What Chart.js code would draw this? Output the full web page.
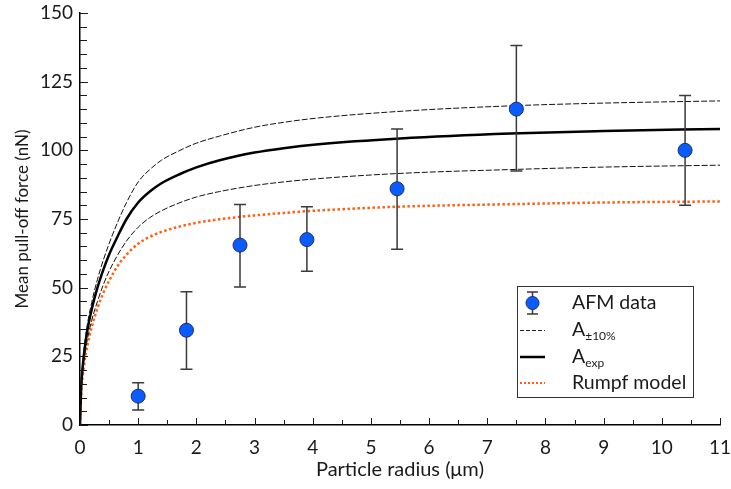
<!DOCTYPE html>
<html>
<head>
<meta charset="utf-8">
<script src="https://cdn.jsdelivr.net/npm/chart.js@4/dist/chart.umd.min.js"></script>
<style>
  html, body { margin: 0; padding: 0; background: #ffffff; }
  #wrap { width: 731px; height: 489px; position: relative; }
</style>
</head>
<body>
<div id="wrap"><canvas id="c" width="731" height="489"></canvas></div>
<script>
// ---- AFM measurements ----
const radius  = [1.0, 1.83, 2.75, 3.9, 5.45, 7.5, 10.4];
const force   = [10.5, 34.5, 65.5, 67.5, 86.0, 115.0, 100.0];
const errLow  = [5.5, 20.3, 50.2, 56.0, 64.0, 92.5, 80.0];
const errHigh = [15.4, 48.5, 80.3, 79.5, 107.8, 138.2, 120.0];

// ---- model curves ----
const curveX  = [0, 0.02, 0.05, 0.1, 0.2, 0.3, 0.4, 0.5, 0.65, 0.8, 1.0, 1.2, 1.4, 1.7, 2.0, 2.4, 3.0, 3.5, 4.1, 5.5, 7.4, 9.0, 11.0];
const aExp    = [0, 13.5, 22, 31, 42, 50, 56.5, 62, 68.8, 75, 81, 85, 88, 91.2, 93.8, 96.4, 99.2, 100.8, 102.2, 104.3, 106.1, 107.0, 107.8];
const aPlus   = [0, 14.5, 23.5, 33, 44.5, 53, 60, 66, 74, 81, 88.5, 93, 96.4, 99.8, 102.6, 105.2, 108.4, 110.2, 111.8, 114.2, 116.2, 117.2, 118.0];
const aMinus  = [0, 12.5, 20, 28, 38, 45, 51, 56, 62, 67, 72, 75.5, 78, 80.8, 83, 85, 87.2, 88.5, 89.7, 91.6, 93.0, 93.9, 94.6];
const rumpf   = [0, 11.5, 18.5, 26, 35.5, 42.5, 48, 52.5, 58, 62, 66, 68.5, 70.3, 72.2, 73.6, 74.9, 76.3, 77.2, 78.1, 79.5, 80.4, 81.0, 81.4];

// ---- axis ticks ----
const xTicks = [0,1,2,3,4,5,6,7,8,9,10,11];
const yTicks = [0,25,50,75,100,125,150];
const xMinorStep = 0.5;
const yMinorStep = 5;

const legendLabels = [
  {main: 'AFM data', sub: ''},
  {main: 'A', sub: '±10%'},
  {main: 'A', sub: 'exp'},
  {main: 'Rumpf model', sub: ''}
];

const FONT = 'Lato, "Open Sans", "DejaVu Sans", sans-serif';
const TXT = '#1a1a1a';
const ORANGE = '#ff5f0f';
const BLUE = '#0a5cff';

function pts(xs, ys) { return xs.map((x, i) => ({x: x, y: ys[i]})); }

const errorBarPlugin = {
  id: 'errorBars',
  beforeDatasetDraw(chart, args) {
    if (args.index !== 0) return;
    const ctx = chart.ctx, xs = chart.scales.x, ys = chart.scales.y;
    ctx.save();
    ctx.strokeStyle = '#3a3a3a';
    ctx.lineWidth = 1.5;
    radius.forEach((r, i) => {
      const px = xs.getPixelForValue(r);
      const lo = ys.getPixelForValue(errLow[i]);
      const hi = ys.getPixelForValue(errHigh[i]);
      ctx.beginPath();
      ctx.moveTo(px, lo); ctx.lineTo(px, hi);
      ctx.moveTo(px - 6, lo); ctx.lineTo(px + 6, lo);
      ctx.moveTo(px - 6, hi); ctx.lineTo(px + 6, hi);
      ctx.stroke();
    });
    ctx.restore();
  }
};

const ticksPlugin = {
  id: 'innerTicks',
  afterDraw(chart) {
    const ctx = chart.ctx, xs = chart.scales.x, ys = chart.scales.y;
    const a = chart.chartArea;
    ctx.save();
    ctx.strokeStyle = '#1a1a1a';
    ctx.lineWidth = 1;
    ctx.beginPath();
    for (let v = 0; v <= 11 + 1e-9; v += xMinorStep) {
      const px = Math.round(xs.getPixelForValue(v)) + 0.5;
      const major = Math.abs(v - Math.round(v)) < 1e-6;
      const len = major ? 7 : 5;
      ctx.moveTo(px, a.bottom); ctx.lineTo(px, a.bottom - len);
    }
    for (let v = 0; v <= 150 + 1e-9; v += yMinorStep) {
      const py = Math.round(ys.getPixelForValue(v)) + 0.5;
      const major = v % 25 === 0;
      const len = major ? 8 : 7;
      ctx.moveTo(a.left, py); ctx.lineTo(a.left + len, py);
    }
    ctx.stroke();
    ctx.restore();
  }
};

const legendPlugin = {
  id: 'boxLegend',
  afterDraw(chart) {
    const ctx = chart.ctx;
    const bx = 517.5, by = 286.5, bw = 176, bh = 111;
    ctx.save();
    ctx.fillStyle = '#ffffff';
    ctx.fillRect(bx, by, bw, bh);
    ctx.strokeStyle = '#333333';
    ctx.lineWidth = 1;
    ctx.strokeRect(bx, by, bw, bh);
    const rowY = [303, 330, 357, 383];
    const x0 = 520, x1 = 545, tx = 572;
    // AFM marker
    ctx.strokeStyle = '#3a3a3a'; ctx.lineWidth = 1.5;
    ctx.beginPath();
    ctx.moveTo(532.5, rowY[0] - 11); ctx.lineTo(532.5, rowY[0] + 11);
    ctx.moveTo(527, rowY[0] - 11); ctx.lineTo(538, rowY[0] - 11);
    ctx.moveTo(527, rowY[0] + 11); ctx.lineTo(538, rowY[0] + 11);
    ctx.stroke();
    ctx.beginPath();
    ctx.arc(532.5, rowY[0], 6.5, 0, Math.PI * 2);
    ctx.fillStyle = BLUE; ctx.fill();
    ctx.strokeStyle = '#1b2d6b'; ctx.lineWidth = 1; ctx.stroke();
    // dashed
    ctx.strokeStyle = '#222'; ctx.lineWidth = 1; ctx.setLineDash([4, 2]);
    ctx.beginPath(); ctx.moveTo(x0, rowY[1] + 0.5); ctx.lineTo(x1, rowY[1] + 0.5); ctx.stroke();
    // solid
    ctx.setLineDash([]); ctx.lineWidth = 2.5; ctx.strokeStyle = '#000';
    ctx.beginPath(); ctx.moveTo(x0, rowY[2]); ctx.lineTo(x1, rowY[2]); ctx.stroke();
    // dotted
    ctx.setLineDash([2, 2]); ctx.lineWidth = 2; ctx.strokeStyle = ORANGE;
    ctx.beginPath(); ctx.moveTo(x0, rowY[3]); ctx.lineTo(x1, rowY[3]); ctx.stroke();
    ctx.setLineDash([]);
    // labels
    ctx.fillStyle = TXT;
    ctx.textBaseline = 'middle';
    ctx.textAlign = 'left';
    legendLabels.forEach((l, i) => {
      ctx.font = '19.5px ' + FONT;
      ctx.fillText(l.main, tx, rowY[i]);
      if (l.sub) {
        const w = ctx.measureText(l.main).width;
        ctx.font = '12px ' + FONT;
        ctx.fillText(l.sub, tx + w, rowY[i] + 6);
      }
    });
    ctx.restore();
  }
};

new Chart(document.getElementById('c'), {
  type: 'scatter',
  data: {
    datasets: [
      {
        label: 'AFM data',
        data: pts(radius, force),
        pointRadius: 7, pointHoverRadius: 7,
        pointBackgroundColor: BLUE, pointBorderColor: '#1b2d6b', pointBorderWidth: 1,
        showLine: false
      },
      {
        label: 'A+10%', data: pts(curveX, aPlus), showLine: true, pointRadius: 0,
        borderColor: '#111', borderWidth: 1, borderDash: [6, 2],
        cubicInterpolationMode: 'monotone', fill: false
      },
      {
        label: 'A-10%', data: pts(curveX, aMinus), showLine: true, pointRadius: 0,
        borderColor: '#111', borderWidth: 1, borderDash: [6, 2],
        cubicInterpolationMode: 'monotone', fill: false
      },
      {
        label: 'Aexp', data: pts(curveX, aExp), showLine: true, pointRadius: 0,
        borderColor: '#000', borderWidth: 2.5,
        cubicInterpolationMode: 'monotone', fill: false
      },
      {
        label: 'Rumpf model', data: pts(curveX, rumpf), showLine: true, pointRadius: 0,
        borderColor: ORANGE, borderWidth: 2.5, borderDash: [2.5, 2.5],
        cubicInterpolationMode: 'monotone', fill: false
      }
    ]
  },
  options: {
    responsive: false,
    animation: false,
    events: [],
    layout: { padding: { left: 0, right: 11, top: 13, bottom: 0 } },
    plugins: { legend: { display: false }, tooltip: { enabled: false } },
    scales: {
      x: {
        type: 'linear', min: 0, max: 11,
        afterBuildTicks: (s) => { s.ticks = xTicks.map(v => ({value: v})); },
        afterFit: (s) => { s.height = 64; s.paddingLeft = 0; s.paddingRight = 0; },
        grid: { display: false, drawTicks: false },
        border: { display: true, color: '#000', width: 1.5 },
        ticks: { color: TXT, font: { family: FONT, size: 19 }, padding: 11, maxRotation: 0, autoSkip: false },
        title: { display: true, text: 'Particle radius (μm)', color: TXT, font: { family: FONT, size: 20 }, padding: { top: 0, bottom: 7 } }
      },
      y: {
        type: 'linear', min: 0, max: 150,
        afterBuildTicks: (s) => { s.ticks = yTicks.map(v => ({value: v})); },
        afterFit: (s) => { s.width = 80; s.paddingTop = 0; s.paddingBottom = 0; },
        grid: { display: false, drawTicks: false },
        border: { display: true, color: '#000', width: 1.5 },
        ticks: { color: TXT, font: { family: FONT, size: 19 }, padding: 7, autoSkip: false },
        title: { display: true, text: 'Mean pull-off force (nN)', color: TXT, font: { family: FONT, size: 17 }, padding: { top: 12, bottom: 0 } }
      }
    }
  },
  plugins: [errorBarPlugin, ticksPlugin, legendPlugin]
});
</script>
</body>
</html>
